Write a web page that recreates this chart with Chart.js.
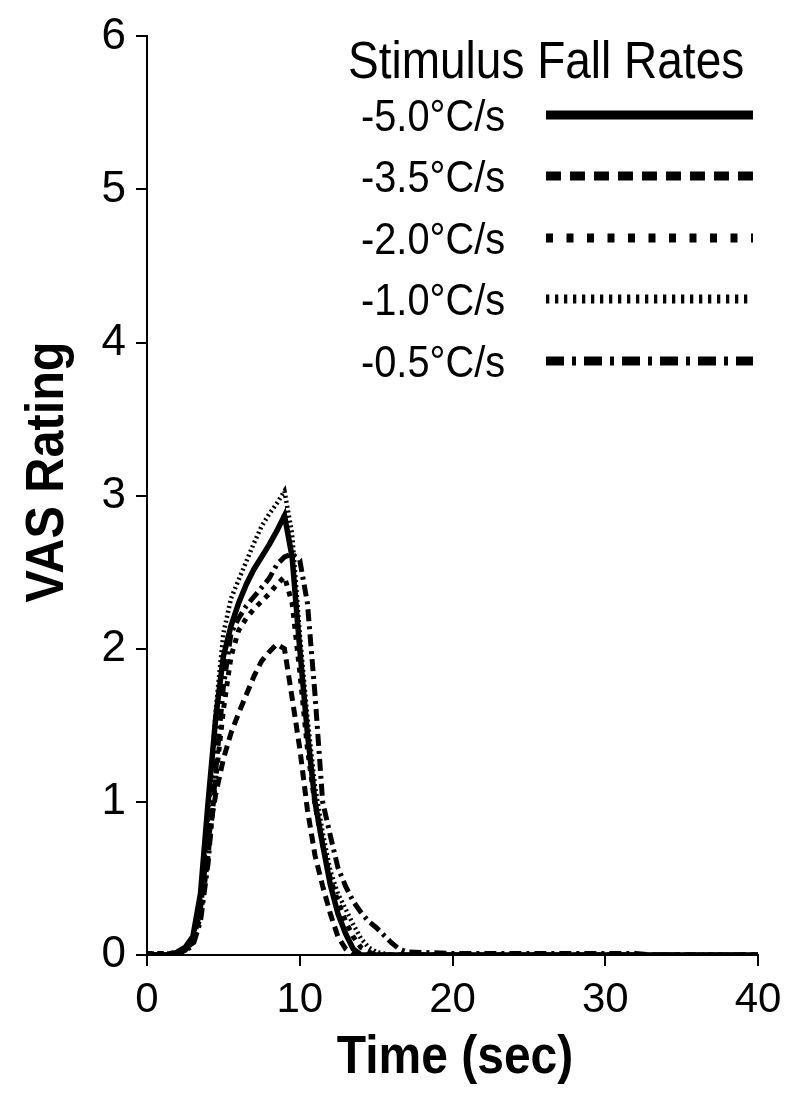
<!DOCTYPE html>
<html>
<head>
<meta charset="utf-8">
<script src="https://cdn.jsdelivr.net/npm/chart.js@4.4.0/dist/chart.umd.min.js"></script>
<style>
  html, body { margin: 0; padding: 0; background: #fff; }
  #wrap { width: 800px; height: 1103px; }
</style>
</head>
<body>
<div id="wrap"><canvas id="vas-chart" width="800" height="1103"></canvas></div>
<script>
// time points (sec)
const times = [0, 0.5, 1, 1.5, 2, 2.5, 3, 3.5, 4, 4.5, 5, 5.5, 6, 6.5, 7, 7.5, 8, 8.5, 9, 9.5,
  10, 10.5, 11, 11.5, 12, 12.5, 13, 13.5, 14, 14.5, 15, 15.5, 16, 16.5, 17, 20, 25, 30, 32, 33, 40];

// VAS ratings for each stimulus fall rate
const rate50 = [0, 0, 0, 0, 0.02, 0.05, 0.12, 0.4, 1.0, 1.55, 1.95, 2.15, 2.3, 2.42, 2.52, 2.6, 2.68, 2.77, 2.87, 2.6,
  2.0, 1.45, 1.0, 0.72, 0.46, 0.27, 0.14, 0.04, 0, 0, 0, 0, 0, 0, 0, 0, 0, 0, 0, 0, 0];
const rate35 = [0, 0, 0, 0, 0.01, 0.03, 0.08, 0.3, 0.75, 1.05, 1.28, 1.45, 1.58, 1.7, 1.82, 1.92, 1.98, 2.03, 2.0, 1.68,
  1.35, 0.95, 0.65, 0.45, 0.27, 0.12, 0.04, 0, 0, 0, 0, 0, 0, 0, 0, 0, 0, 0, 0, 0, 0];
const rate20 = [0.01, 0.01, 0.01, 0.01, 0.02, 0.04, 0.08, 0.25, 0.65, 1.15, 1.6, 1.95, 2.12, 2.2, 2.26, 2.31, 2.36, 2.42, 2.47, 2.3,
  1.85, 1.35, 0.98, 0.72, 0.5, 0.35, 0.22, 0.12, 0.05, 0.02, 0, 0, 0, 0, 0, 0, 0, 0, 0, 0, 0];
const rate10 = [0.01, 0.01, 0.01, 0.01, 0.02, 0.04, 0.1, 0.35, 0.9, 1.6, 2.1, 2.33, 2.45, 2.57, 2.69, 2.8, 2.88, 2.95, 3.03, 2.75,
  2.1, 1.55, 1.1, 0.8, 0.55, 0.4, 0.3, 0.2, 0.11, 0.05, 0.02, 0.01, 0, 0, 0, 0, 0, 0, 0, 0, 0];
const rate05 = [0, 0, 0, 0, 0.01, 0.03, 0.06, 0.22, 0.6, 1.2, 1.75, 2.1, 2.2, 2.28, 2.34, 2.4, 2.46, 2.55, 2.6, 2.62,
  2.58, 2.3, 1.7, 1.0, 0.78, 0.57, 0.45, 0.35, 0.28, 0.22, 0.18, 0.13, 0.08, 0.04, 0.02, 0.01, 0.01, 0.01, 0.01, 0, 0];

const rateLabels = ['-5.0\u00B0C/s', '-3.5\u00B0C/s', '-2.0\u00B0C/s', '-1.0\u00B0C/s', '-0.5\u00B0C/s'];
const xTicks = [0, 10, 20, 30, 40];
const yTicks = [0, 1, 2, 3, 4, 5, 6];

function toPoints(values) {
  return values.map((v, i) => ({ x: times[i], y: v }));
}

const lineStyles = [
  { width: 5.5, dash: [], legendDash: [] },
  { width: 5, dash: [10, 6], legendDash: [15, 9] },
  { width: 5, dash: [5, 6], legendDash: [7, 13.5] },
  { width: 4.5, dash: [2, 3], legendDash: [3.3, 5.7] },
  { width: 5, dash: [12, 5, 3, 5], legendDash: [18, 8, 4, 8] }
];

const seriesValues = [rate50, rate35, rate20, rate10, rate05];

const datasets = seriesValues.map((vals, i) => ({
  label: rateLabels[i],
  data: toPoints(vals),
  borderColor: '#000',
  borderWidth: lineStyles[i].width,
  borderDash: lineStyles[i].dash,
  legendDash: lineStyles[i].legendDash,
  borderCapStyle: 'butt',
  pointRadius: 0,
  tension: 0,
  fill: false
}));

// draw text stretched by sx, sy around (x, y)
function stretchedText(ctx, text, x, y, sx, sy) {
  ctx.save();
  ctx.translate(x, y);
  ctx.scale(sx, sy);
  ctx.fillText(text, 0, 0);
  ctx.restore();
}

// custom legend + axis titles
const decorPlugin = {
  id: 'decor',
  afterDraw(chart) {
    const ctx = chart.ctx;
    ctx.save();
    ctx.fillStyle = '#000';

    // legend title
    ctx.font = '46px "Liberation Sans", Arial, sans-serif';
    ctx.textAlign = 'left';
    ctx.textBaseline = 'alphabetic';
    stretchedText(ctx, 'Stimulus Fall Rates', 348, 78, 1, 1.12);

    const rowY = [115, 176, 238, 299, 361];
    chart.data.datasets.forEach((ds, i) => {
      ctx.font = '39px "Liberation Sans", Arial, sans-serif';
      ctx.textAlign = 'left';
      stretchedText(ctx, ds.label, 361, rowY[i] + 16, 1.02, 1.15);

      ctx.beginPath();
      ctx.setLineDash(ds.legendDash);
      ctx.lineWidth = 9;
      ctx.lineCap = 'butt';
      ctx.strokeStyle = '#000';
      ctx.moveTo(546, rowY[i]);
      ctx.lineTo(753, rowY[i]);
      ctx.stroke();
    });
    ctx.setLineDash([]);

    // y axis title
    ctx.font = 'bold 54px "Liberation Sans", Arial, sans-serif';
    ctx.textAlign = 'center';
    ctx.textBaseline = 'middle';
    ctx.save();
    ctx.translate(48, 472);
    ctx.rotate(-Math.PI / 2);
    ctx.scale(0.9, 1);
    ctx.fillText('VAS Rating', 0, 0);
    ctx.restore();

    // x axis title
    ctx.font = 'bold 48px "Liberation Sans", Arial, sans-serif';
    stretchedText(ctx, 'Time (sec)', 455, 1058, 1, 1.1);
    ctx.restore();
  }
};

const ctx = document.getElementById('vas-chart').getContext('2d');
new Chart(ctx, {
  type: 'line',
  data: { datasets: datasets },
  options: {
    responsive: false,
    animation: false,
    layout: { padding: { left: 0, top: 34, right: 42, bottom: 0 } },
    plugins: { legend: { display: false }, tooltip: { enabled: false } },
    scales: {
      x: {
        type: 'linear',
        min: 0,
        max: 40,
        afterBuildTicks(scale) { scale.ticks = xTicks.map(v => ({ value: v })); },
        afterFit(scale) { scale.height = 148; },
        border: { display: true, color: '#000', width: 2 },
        grid: { drawOnChartArea: false, drawTicks: true, tickLength: 11, color: '#000', lineWidth: 2 },
        ticks: {
          color: '#000',
          padding: 9,
          maxRotation: 0,
          font: { family: '"Liberation Sans", Arial, sans-serif', size: 42 }
        }
      },
      y: {
        type: 'linear',
        min: 0,
        max: 6,
        afterBuildTicks(scale) { scale.ticks = yTicks.map(v => ({ value: v })); },
        afterFit(scale) { scale.width = 147; },
        border: { display: true, color: '#000', width: 2 },
        grid: { drawOnChartArea: false, drawTicks: true, tickLength: 11, color: '#000', lineWidth: 2 },
        ticks: {
          color: '#000',
          padding: 10,
          font: { family: '"Liberation Sans", Arial, sans-serif', size: 44 }
        }
      }
    }
  },
  plugins: [decorPlugin]
});
</script>
</body>
</html>
